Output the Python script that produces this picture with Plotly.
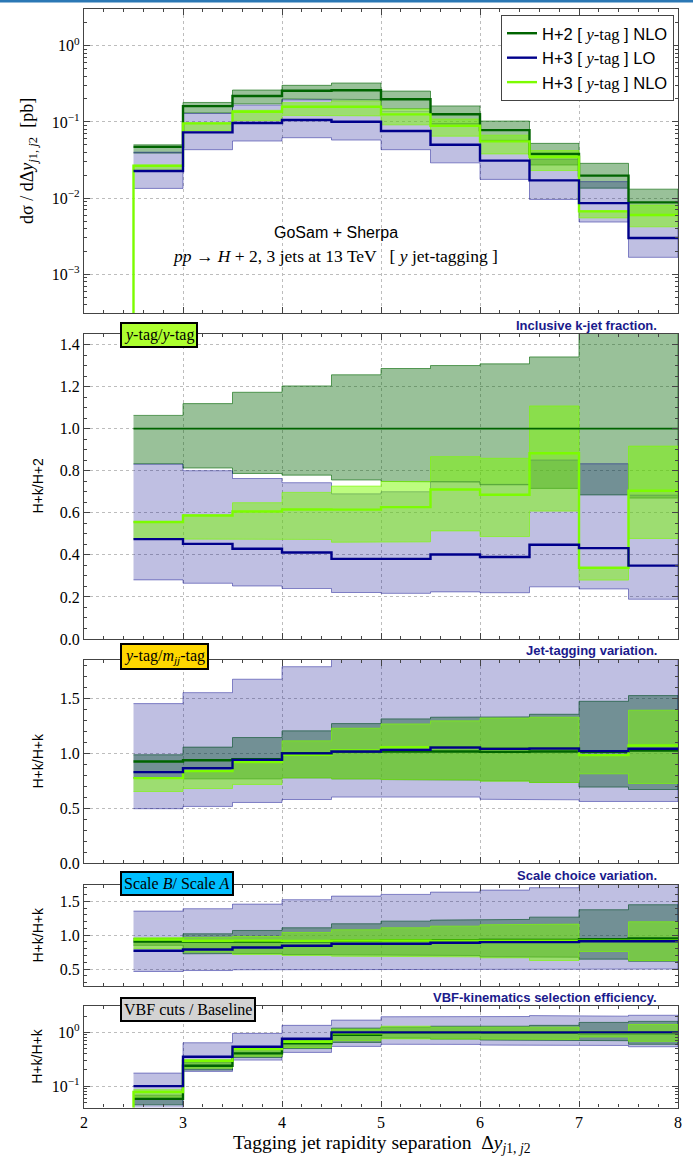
import plotly.graph_objects as go

# ---------------- data ----------------
EDGES = [2.5, 3.0, 3.5, 4.0, 4.5, 5.0, 5.5, 6.0, 6.5, 7.0, 7.5, 8.0]

# Panel 1: d sigma / d Delta y  [pb]
P1_H2 = [0.047, 0.161, 0.219, 0.257, 0.26, 0.198, 0.126, 0.078, 0.038, 0.0197, 0.0088]
P1_H2_LO = [0.039, 0.131, 0.172, 0.2, 0.196, 0.148, 0.094, 0.057, 0.0272, 0.0135, 0.0059]
P1_H2_HI = [0.050, 0.18, 0.262, 0.302, 0.324, 0.254, 0.162, 0.1026, 0.0523, 0.0286, 0.0131]
P1_LO = [0.0227, 0.073, 0.0966, 0.106, 0.1007, 0.076, 0.0502, 0.031, 0.0171, 0.0086, 0.003]
P1_LO_LO = [0.0134, 0.0432, 0.0561, 0.062, 0.0578, 0.0432, 0.029, 0.0176, 0.0096, 0.00485, 0.00167]
P1_LO_HI = [0.040, 0.129, 0.166, 0.195, 0.19, 0.139, 0.094, 0.0573, 0.0323, 0.01645, 0.006]
P1_NLO = [0.0266, 0.0957, 0.136, 0.158, 0.158, 0.1256, 0.089, 0.0555, 0.0349, 0.0067, 0.006]
P1_NLO_LO = [0.0225, 0.0766, 0.104, 0.122, 0.12, 0.0915, 0.065, 0.038, 0.023, 0.0055, 0.0042]
P1_NLO_HI = [0.027, 0.097, 0.142, 0.179, 0.189, 0.148, 0.109, 0.067, 0.042, 0.0068, 0.0081]

# Panel 2: inclusive k-jet fraction (H+k / H+2)
P2_H2 = [1.0] * 11
P2_H2_LO = [0.833, 0.813, 0.787, 0.779, 0.756, 0.749, 0.746, 0.733, 0.716, 0.685, 0.67]
P2_H2_HI = [1.063, 1.119, 1.173, 1.203, 1.256, 1.286, 1.30, 1.308, 1.341, 1.48, 1.52]
P2_LO = [0.475, 0.452, 0.429, 0.411, 0.381, 0.381, 0.402, 0.39, 0.448, 0.432, 0.349]
P2_LO_LO = [0.281, 0.265, 0.252, 0.24, 0.221, 0.217, 0.224, 0.22, 0.248, 0.238, 0.189]
P2_LO_HI = [0.831, 0.80, 0.763, 0.743, 0.69, 0.70, 0.748, 0.735, 0.851, 0.833, 0.684]
P2_NLO = [0.556, 0.587, 0.606, 0.616, 0.615, 0.627, 0.711, 0.686, 0.883, 0.338, 0.705]
P2_NLO_LO = [0.476, 0.476, 0.476, 0.473, 0.46, 0.462, 0.514, 0.487, 0.608, 0.28, 0.478]
P2_NLO_HI = [0.558, 0.59, 0.648, 0.697, 0.727, 0.749, 0.867, 0.859, 1.108, 0.342, 0.917]

# Panel 3: jet-tagging variation (y-tag / mjj-tag)
P3_H2 = [0.924, 0.936, 0.945, 1.0, 1.015, 1.015, 1.015, 1.012, 1.015, 1.012, 1.024]
P3_H2_LO = [0.775, 0.766, 0.766, 0.775, 0.766, 0.76, 0.755, 0.748, 0.733, 0.691, 0.669]
P3_H2_HI = [0.985, 1.055, 1.142, 1.203, 1.269, 1.312, 1.327, 1.33, 1.354, 1.472, 1.524]
P3_LO = [0.827, 0.864, 0.939, 0.998, 1.015, 1.03, 1.051, 1.04, 1.042, 1.018, 1.04]
P3_LO_LO = [0.494, 0.515, 0.551, 0.578, 0.60, 0.606, 0.60, 0.58, 0.575, 0.56, 0.56]
P3_LO_HI = [1.451, 1.551, 1.673, 1.787, 1.95, 2.0, 2.05, 2.1, 2.15, 2.2, 2.3]
P3_NLO = [0.773, 0.836, 0.918, 0.985, 1.025, 1.055, 1.055, 1.045, 1.045, 0.982, 1.069]
P3_NLO_LO = [0.651, 0.678, 0.715, 0.775, 0.766, 0.76, 0.755, 0.745, 0.733, 0.812, 0.724]
P3_NLO_HI = [0.775, 0.84, 0.92, 1.112, 1.227, 1.266, 1.294, 1.32, 1.327, 0.985, 1.391]

# Panel 4: scale choice variation (Scale B / Scale A)
P4_H2 = [0.905, 0.905, 0.905, 0.91, 0.915, 0.925, 0.925, 0.93, 0.93, 0.94, 0.95]
P4_H2_LO = [0.85, 0.725, 0.73, 0.715, 0.71, 0.70, 0.70, 0.68, 0.675, 0.646, 0.615]
P4_H2_HI = [0.95, 1.02, 1.069, 1.109, 1.168, 1.207, 1.222, 1.232, 1.266, 1.375, 1.449]
P4_LO = [0.77, 0.789, 0.818, 0.843, 0.873, 0.873, 0.888, 0.897, 0.897, 0.91, 0.91]
P4_LO_LO = [0.464, 0.478, 0.489, 0.495, 0.497, 0.5, 0.5, 0.5, 0.5, 0.5, 0.5]
P4_LO_HI = [1.355, 1.39, 1.458, 1.523, 1.576, 1.601, 1.635, 1.665, 1.70, 1.8, 1.85]
P4_NLO = [0.936, 0.917, 0.92, 0.915, 0.92, 0.922, 0.92, 0.92, 0.92, 0.92, 0.92]
P4_NLO_LO = [0.80, 0.75, 0.715, 0.70, 0.69, 0.685, 0.68, 0.666, 0.626, 0.759, 0.626]
P4_NLO_HI = [0.961, 0.97, 0.98, 1.04, 1.08, 1.109, 1.133, 1.153, 1.163, 0.93, 1.198]

# Panel 5: VBF-kinematics selection efficiency (VBF cuts / Baseline)
P5_H2 = [0.058, 0.239, 0.406, 0.624, 0.90, 0.98, 0.98, 0.98, 0.98, 0.97, 0.97]
P5_H2_LO = [0.045, 0.2, 0.34, 0.5, 0.65, 0.78, 0.75, 0.72, 0.72, 0.7, 0.6]
P5_H2_HI = [0.068, 0.28, 0.48, 0.72, 1.2, 1.25, 1.3, 1.3, 1.35, 1.53, 1.6]
P5_LO = [0.1, 0.351, 0.54, 0.76, 1.0, 1.0, 1.0, 1.0, 1.0, 1.0, 1.0]
P5_LO_LO = [0.03, 0.188, 0.305, 0.424, 0.548, 0.6, 0.597, 0.58, 0.58, 0.57, 0.54]
P5_LO_HI = [0.175, 0.641, 0.958, 1.35, 1.69, 1.95, 1.95, 1.97, 2.05, 2.0, 2.08]
P5_NLO = [0.078, 0.296, 0.489, 0.668, 0.96, 0.99, 0.99, 1.0, 1.0, 0.98, 0.98]
P5_NLO_LO = [0.062, 0.215, 0.36, 0.52, 0.70, 0.76, 0.76, 0.74, 0.74, 0.82, 0.68]
P5_NLO_HI = [0.086, 0.31, 0.52, 0.76, 1.15, 1.3, 1.25, 1.25, 1.25, 1.05, 1.4]

YTAG = '<span style="font-family:Liberation Serif"><i>y</i>-tag</span>'
SERIES_NAMES = [f"H+2 [ {YTAG} ] NLO", f"H+3 [ {YTAG} ] LO", f"H+3 [ {YTAG} ] NLO"]

X_TICKS = [2, 3, 4, 5, 6, 7, 8]
P1_TICKVALS = [1e-3, 1e-2, 1e-1, 1.0]
P1_TICKTEXT = ["10<sup>−3</sup>", "10<sup>−2</sup>", "10<sup>−1</sup>", "10<sup>0</sup>"]
P2_TICKVALS = [0.0, 0.2, 0.4, 0.6, 0.8, 1.0, 1.2, 1.4]
P3_TICKVALS = [0.0, 0.5, 1.0, 1.5]
P4_TICKVALS = [0.5, 1.0, 1.5]
P5_TICKVALS = [0.1, 1.0]
P5_TICKTEXT = ["10<sup>−1</sup>", "10<sup>0</sup>"]

# ---------------- style ----------------
DG = "#006400"
NAVY = "#00008b"
LG = "#7cfc00"
FILL_H2 = "rgba(0,100,0,0.40)"
FILL_LO = "rgba(0,0,139,0.25)"
FILL_NLO = "rgba(124,252,0,0.50)"
EDGE_H2 = "rgba(0,100,0,0.75)"
EDGE_LO = "rgba(0,0,139,0.55)"
EDGE_NLO = "rgba(124,252,0,0.8)"
SERIF = "Liberation Serif"
SANS = "Liberation Sans"

# pixel geometry -> paper
L, R, T, B = 84, 15, 9, 50
W, H = 693, 1158
PH = H - T - B
def py(pix):
    return (H - B - pix) / PH
def px(pix):
    return (pix - L) / (W - L - R)

DOMAINS = [
    (py(313), py(9)),
    (py(639), py(334)),
    (py(863), py(660)),
    (py(986), py(885)),
    (py(1107.5), py(1006)),
]

fig = go.Figure()


def band(k, lo, hi, fill, edge):
    xs, ys = [], []
    for i in range(len(hi)):
        xs += [EDGES[i], EDGES[i + 1]]
        ys += [hi[i], hi[i]]
    for i in reversed(range(len(lo))):
        xs += [EDGES[i + 1], EDGES[i]]
        ys += [lo[i], lo[i]]
    fig.add_trace(go.Scatter(
        x=xs, y=ys, mode="lines", fill="toself", fillcolor=fill,
        line=dict(color=edge, width=0.8), hoverinfo="skip", showlegend=False,
        xaxis="x" if k == 1 else f"x{k}", yaxis="y" if k == 1 else f"y{k}"))


def step(k, vals, color, width, name=None, rank=None, drop=False):
    xs = list(EDGES)
    ys = list(vals) + [vals[-1]]
    if drop:
        xs = [EDGES[0]] + xs
        ys = [1e-9] + ys
    fig.add_trace(go.Scatter(
        x=xs, y=ys, mode="lines", line=dict(color=color, width=width, shape="hv"),
        name=name if name else "", showlegend=name is not None,
        legendrank=rank if rank else 1000, hoverinfo="skip",
        xaxis="x" if k == 1 else f"x{k}", yaxis="y" if k == 1 else f"y{k}"))


PANELS = [
    (P1_H2, P1_H2_LO, P1_H2_HI, P1_LO, P1_LO_LO, P1_LO_HI, P1_NLO, P1_NLO_LO, P1_NLO_HI, True),
    (P2_H2, P2_H2_LO, P2_H2_HI, P2_LO, P2_LO_LO, P2_LO_HI, P2_NLO, P2_NLO_LO, P2_NLO_HI, False),
    (P3_H2, P3_H2_LO, P3_H2_HI, P3_LO, P3_LO_LO, P3_LO_HI, P3_NLO, P3_NLO_LO, P3_NLO_HI, False),
    (P4_H2, P4_H2_LO, P4_H2_HI, P4_LO, P4_LO_LO, P4_LO_HI, P4_NLO, P4_NLO_LO, P4_NLO_HI, False),
    (P5_H2, P5_H2_LO, P5_H2_HI, P5_LO, P5_LO_LO, P5_LO_HI, P5_NLO, P5_NLO_LO, P5_NLO_HI, True),
]

for k, (h2, h2lo, h2hi, lo, lolo, lohi, nlo, nlolo, nlohi, islog) in enumerate(PANELS, start=1):
    band(k, h2lo, h2hi, FILL_H2, EDGE_H2)
    band(k, lolo, lohi, FILL_LO, EDGE_LO)
    band(k, nlolo, nlohi, FILL_NLO, EDGE_NLO)
    first = (k == 1)
    step(k, h2, DG, 1.6 if k == 2 else 2.4, SERIES_NAMES[0] if first else None, 1)
    step(k, nlo, LG, 2.4, SERIES_NAMES[2] if first else None, 3, drop=islog)
    step(k, lo, NAVY, 2.4, SERIES_NAMES[1] if first else None, 2)

axis_common = dict(
    showline=True, linecolor="#444444", linewidth=1.3, mirror="allticks",
    ticks="inside", ticklen=6, tickwidth=1, tickcolor="#444444",
    showgrid=True, gridcolor="#bdbdbd", griddash="dot", gridwidth=1,
    zeroline=False, tickfont=dict(family=SERIF, size=16, color="black"),
)

layout = dict(
    width=W, height=H, margin=dict(l=L, r=R, t=T, b=B),
    paper_bgcolor="white", plot_bgcolor="white", showlegend=True,
    legend=dict(x=px(674), y=py(15), xanchor="right", yanchor="top",
                bgcolor="white", bordercolor="#444444", borderwidth=1,
                font=dict(family=SANS, size=16.5, color="black"),
                itemwidth=30, tracegroupgap=0),
)

y_specs = [
    dict(type="log", range=[-3.508, 0.482], tickvals=P1_TICKVALS, ticktext=P1_TICKTEXT,
         minor=dict(dtick="D1", ticks="inside", ticklen=3, tickcolor="#444444", showgrid=False)),
    dict(range=[0, 1.45], tickvals=P2_TICKVALS, ticktext=[f"{v:.1f}" for v in P2_TICKVALS],
         minor=dict(dtick=0.05, ticks="inside", ticklen=3, tickcolor="#444444", showgrid=False)),
    dict(range=[0, 1.848], tickvals=P3_TICKVALS, ticktext=[f"{v:.1f}" for v in P3_TICKVALS],
         minor=dict(dtick=0.1, ticks="inside", ticklen=3, tickcolor="#444444", showgrid=False)),
    dict(range=[0.25, 1.74], tickvals=P4_TICKVALS, ticktext=[f"{v:.1f}" for v in P4_TICKVALS],
         minor=dict(dtick=0.1, ticks="inside", ticklen=3, tickcolor="#444444", showgrid=False)),
    dict(type="log", range=[-1.397, 0.49], tickvals=P5_TICKVALS, ticktext=P5_TICKTEXT,
         minor=dict(dtick="D1", ticks="inside", ticklen=3, tickcolor="#444444", showgrid=False)),
]

for k in range(1, 6):
    xk = "xaxis" if k == 1 else f"xaxis{k}"
    yk = "yaxis" if k == 1 else f"yaxis{k}"
    ya = "y" if k == 1 else f"y{k}"
    xa = "x" if k == 1 else f"x{k}"
    layout[xk] = dict(axis_common, domain=[0, 1], anchor=ya, range=[2, 8],
                      tickvals=X_TICKS, ticktext=[str(v) for v in X_TICKS],
                      showticklabels=(k == 5),
                      minor=dict(dtick=0.2, ticks="inside", ticklen=3, tickcolor="#444444", showgrid=False))
    if k > 1:
        layout[xk]["matches"] = "x"
    layout[yk] = dict(axis_common, domain=list(DOMAINS[k - 1]), anchor=xa, **y_specs[k - 1])

fig.update_layout(**layout)

ann = []
# y-axis titles
ann.append(dict(text="dσ / dΔ<i>y</i><sub><i>j</i>1, <i>j</i>2</sub>  [pb]", x=px(28), y=(DOMAINS[0][0] + DOMAINS[0][1]) / 2,
                textangle=-90, font=dict(family=SERIF, size=18, color="black")))
for k, t in zip([2, 3, 4, 5], ["H+k/H+2", "H+k/H+k", "H+k/H+k", "H+k/H+k"]):
    d = DOMAINS[k - 1]
    ann.append(dict(text=t, x=px(37), y=(d[0] + d[1]) / 2, textangle=-90,
                    font=dict(family=SANS, size=14, color="black")))
# x title
ann.append(dict(text="Tagging jet rapidity separation  Δ<i>y</i><sub><i>j</i>1, <i>j</i>2</sub>", x=px(382), y=py(1130),
                yanchor="top", font=dict(family=SERIF, size=19.5, color="black")))
# panel headers
for text, ypix in [("Inclusive k-jet fraction.", 325), ("Jet-tagging variation.", 650),
                   ("Scale choice variation.", 875), ("VBF-kinematics selection efficiency.", 997.5)]:
    ann.append(dict(text=f"<b>{text}</b>", x=px(659), y=py(ypix), xanchor="right",
                    font=dict(family=SANS, size=13, color="#1a1a8c")))
# label boxes
for text, ypix, bg in [("<i>y</i>-tag/<i>y</i>-tag", 335, "#adff2f"),
                       ("<i>y</i>-tag/<i>m<sub>jj</sub></i>-tag", 656.5, "#ffd700"),
                       ("Scale <i>B</i>/ Scale <i>A</i>", 883.5, "#00bfff"),
                       ("VBF cuts / Baseline", 1009, "#d3d3d3")]:
    ann.append(dict(text=text, x=px(120), y=py(ypix), xanchor="left", bgcolor=bg,
                    bordercolor="black", borderwidth=2, borderpad=2,
                    font=dict(family=SERIF, size=16, color="black")))
# process labels in panel 1
ann.append(dict(text="GoSam + Sherpa", x=px(336), y=py(233),
                font=dict(family=SANS, size=16, color="black")))
ann.append(dict(text="<i>pp</i> → <i>H</i> + 2, 3 jets at 13 TeV   [ <i>y</i> jet-tagging ]", x=px(335), y=py(256),
                font=dict(family=SERIF, size=17.5, color="black")))

for a in ann:
    a.setdefault("xref", "paper")
    a.setdefault("yref", "paper")
    a.setdefault("showarrow", False)
    a.setdefault("xanchor", "center")
    a.setdefault("yanchor", "middle")
fig.update_layout(annotations=ann)

# thin blue strip at the very top
fig.add_shape(type="line", xref="paper", yref="paper", x0=px(0), x1=px(W), y0=py(1), y1=py(1),
              line=dict(color="#2b78b5", width=3))

fig.write_html("out.html")
